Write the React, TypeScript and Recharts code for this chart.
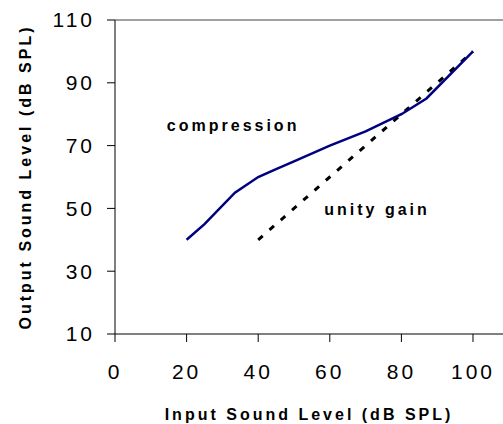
import {
  LineChart,
  Line,
  XAxis,
  YAxis,
  ReferenceLine,
  ReferenceDot,
} from "recharts";

// input / output levels in dB SPL
const compressionInput = [20, 25, 33.5, 40, 45, 50, 60, 70, 80, 87, 100];
const compressionOutput = [40, 45, 55, 60, 62.5, 65, 70, 74.5, 80, 85, 100];
const unityInput = [40, 100];
const unityOutput = [40, 100];

const xTicks = [0, 20, 40, 60, 80, 100];
const yTicks = [10, 30, 50, 70, 90, 110];

const FONT = "'Liberation Sans', Arial, sans-serif";

const compressionData = compressionInput.map((x, i) => ({ x, y: compressionOutput[i] }));
const unityData = unityInput.map((x, i) => ({ x, y: unityOutput[i] }));

const tickStyle = { fontSize: 21, fill: "#000", fontFamily: FONT, letterSpacing: 3 };
const boldText = {
  fontSize: 16,
  fontWeight: "bold",
  fill: "#000",
  fontFamily: FONT,
  letterSpacing: 3,
};

export default function App() {
  return (
    <div style={{ position: "absolute", left: 0, top: 0 }}>
      <LineChart
        width={503}
        height={424}
        margin={{ top: 20, right: 0, bottom: 0, left: 0 }}
      >
        <XAxis
          type="number"
          dataKey="x"
          domain={[0, 108.38]}
          ticks={xTicks}
          allowDataOverflow
          height={90}
          tickSize={8}
          tickMargin={22}
          stroke="#000"
          tick={tickStyle}
          label={{
            value: "Input Sound Level (dB SPL)",
            position: "insideBottom",
            offset: 4,
            style: boldText,
          }}
        />
        <YAxis
          type="number"
          dataKey="y"
          domain={[10, 110]}
          ticks={yTicks}
          width={115}
          tickSize={8}
          tickMargin={12}
          stroke="#000"
          tick={tickStyle}
          label={{
            value: "Output Sound Level (dB SPL)",
            angle: -90,
            position: "insideLeft",
            offset: 25,
            style: { ...boldText, textAnchor: "middle" },
          }}
        />
        <ReferenceLine y={110} stroke="#808080" strokeWidth={1.5} />
        <Line
          data={unityData}
          dataKey="y"
          type="linear"
          stroke="#000"
          strokeWidth={3}
          strokeDasharray="6 9"
          dot={false}
          isAnimationActive={false}
        />
        <Line
          data={compressionData}
          dataKey="y"
          type="linear"
          stroke="#000080"
          strokeWidth={2.5}
          dot={false}
          isAnimationActive={false}
        />
        <ReferenceDot
          x={33}
          y={76.6}
          r={0}
          fill="none"
          stroke="none"
          label={{ value: "compression", position: "center", style: boldText }}
        />
        <ReferenceDot
          x={73.2}
          y={49.8}
          r={0}
          fill="none"
          stroke="none"
          label={{ value: "unity gain", position: "center", style: boldText }}
        />
      </LineChart>
    </div>
  );
}
